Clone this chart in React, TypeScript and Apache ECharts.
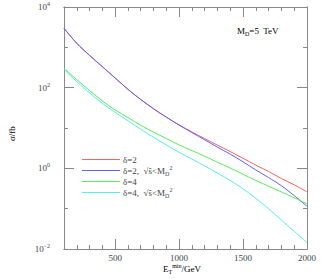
import React, { useEffect, useRef } from "react";
import * as echarts from "echarts";

const etMin = [100, 200, 300, 400, 500, 600, 700, 800, 900, 1000, 1100, 1200, 1300, 1400, 1500, 1600, 1700, 1800, 1900, 2000];
const delta2 = [2950, 1260, 630, 331, 174, 91, 51, 30, 18.6, 11.9, 8.0, 5.45, 3.75, 2.6, 1.77, 1.2, 0.83, 0.56, 0.39, 0.26];
const delta2Cut = [2950, 1260, 630, 331, 174, 91, 51, 30, 18.6, 11.8, 7.7, 5.1, 3.35, 2.24, 1.45, 0.91, 0.59, 0.37, 0.21, 0.115];
const delta4 = [302, 158, 85, 47, 28, 18.2, 11.7, 7.9, 5.5, 3.8, 2.75, 2.0, 1.41, 1.02, 0.71, 0.5, 0.36, 0.26, 0.186, 0.132];
const delta4Cut = [282, 141, 74, 41, 24.5, 15.1, 9.3, 5.9, 3.8, 2.5, 1.7, 1.15, 0.76, 0.5, 0.31, 0.18, 0.1, 0.052, 0.0275, 0.0145];

const seriesNames = ["δ=2", "δ=2, √ŝ<MD2", "δ=4", "δ=4, √ŝ<MD2 "];
const seriesColors = ["#ff6060", "#6060ff", "#55ee55", "#55eeee"];
const seriesData = [delta2, delta2Cut, delta4, delta4Cut];

const xMajorTicks = [500, 1000, 1500, 2000];
const xMinorTicks = [200, 300, 400, 600, 700, 800, 900, 1100, 1200, 1300, 1400, 1600, 1700, 1800, 1900];
const yMajorTicks = [0.01, 1, 100, 10000];
const yMinorTicks = [0.1, 10, 1000];

const FONT = "Liberation Serif";
const AXIS_COLOR = "#888";
const TEXT_COLOR = "#444";

const rich = {
  b: { fontFamily: FONT, fontSize: 9, color: TEXT_COLOR, lineHeight: 12 },
  sup: { fontFamily: FONT, fontSize: 6, color: TEXT_COLOR, lineHeight: 6, verticalAlign: "top" as const },
  sub: { fontFamily: FONT, fontSize: 6, color: TEXT_COLOR, lineHeight: 6, verticalAlign: "bottom" as const },
};

function makeX(pos: "bottom" | "top", major: boolean, labels: boolean) {
  return {
    type: "value",
    position: pos,
    min: 100,
    max: 2000,
    axisLine: { show: true, lineStyle: { color: AXIS_COLOR, width: 1 } },
    axisTick: {
      show: true,
      inside: true,
      length: major ? 10 : 4,
      customValues: major ? xMajorTicks : xMinorTicks,
      lineStyle: { color: AXIS_COLOR, width: 1 },
    },
    axisLabel: {
      show: labels,
      customValues: xMajorTicks,
      fontFamily: FONT,
      fontSize: 9,
      color: TEXT_COLOR,
      margin: 4,
      formatter: (v: number) => String(v),
    },
    splitLine: { show: false },
  };
}

function makeY(pos: "left" | "right", major: boolean, labels: boolean) {
  return {
    type: "log",
    logBase: 10,
    position: pos,
    min: 0.01,
    max: 10000,
    axisLine: { show: true, lineStyle: { color: AXIS_COLOR, width: 1 } },
    axisTick: {
      show: true,
      inside: true,
      length: major ? 10 : 4,
      customValues: major ? yMajorTicks : yMinorTicks,
      lineStyle: { color: AXIS_COLOR, width: 1 },
    },
    axisLabel: {
      show: labels,
      customValues: yMajorTicks,
      margin: 14,
      formatter: (v: number) => {
        const e = Math.round(Math.log10(v));
        return "{b|10}{sup|" + (e < 0 ? "−" + -e : String(e)) + "}";
      },
      rich,
    },
    splitLine: { show: false },
  };
}

function legendLabel(name: string) {
  if (name.indexOf("√") >= 0) {
    const d = name.slice(0, 3);
    return "{b|" + d + ",  √ŝ<M}{sub|D}{sup|2}";
  }
  return "{b|" + name + "}";
}

export default function App() {
  const ref = useRef<HTMLDivElement>(null);
  useEffect(() => {
    if (!ref.current) return;
    const chart = echarts.init(ref.current, null, { renderer: "svg" });
    chart.setOption({
      animation: false,
      grid: { left: 64, top: 7, right: 14, bottom: 30, containLabel: false },
      xAxis: [makeX("bottom", true, true), makeX("bottom", false, false), makeX("top", true, false), makeX("top", false, false)],
      yAxis: [makeY("left", true, true), makeY("left", false, false), makeY("right", true, false), makeY("right", false, false)],
      legend: {
        show: true,
        orient: "vertical",
        left: 77,
        top: 150,
        itemWidth: 38,
        itemHeight: 1,
        itemGap: 0.5,
        icon: "rect",
        formatter: legendLabel,
        textStyle: { rich, padding: [0, 0, 0, -2] },
        data: seriesNames,
        selectedMode: false,
      },
      series: seriesNames.map((n, i) => ({
        name: n,
        type: "line",
        symbol: "none",
        smooth: 0.3,
        data: etMin.map((x, j) => [x, seriesData[i][j]]),
        lineStyle: { color: seriesColors[i], width: 1 },
        itemStyle: { color: seriesColors[i] },
        xAxisIndex: 0,
        yAxisIndex: 0,
        z: i === 0 ? 2 : 3,
      })),
      graphic: [
        {
          type: "text",
          left: 237,
          top: 26,
          style: { text: "{b|M}{sub|D}{b|=5  TeV}", rich },
        },
        {
          type: "text",
          left: 163,
          top: 263,
          style: { text: "{b|E}{sub|T}{sup|min}{b|/GeV}", rich },
        },
        {
          type: "text",
          x: 6,
          y: 141,
          rotation: Math.PI / 2,
          style: { text: "{b|σ/fb}", rich },
        },
      ],
    });
    return () => chart.dispose();
  }, []);
  return <div ref={ref} style={{ position: "fixed", left: 0, top: 0, width: 321, height: 279, background: "#fff" }} />;
}
